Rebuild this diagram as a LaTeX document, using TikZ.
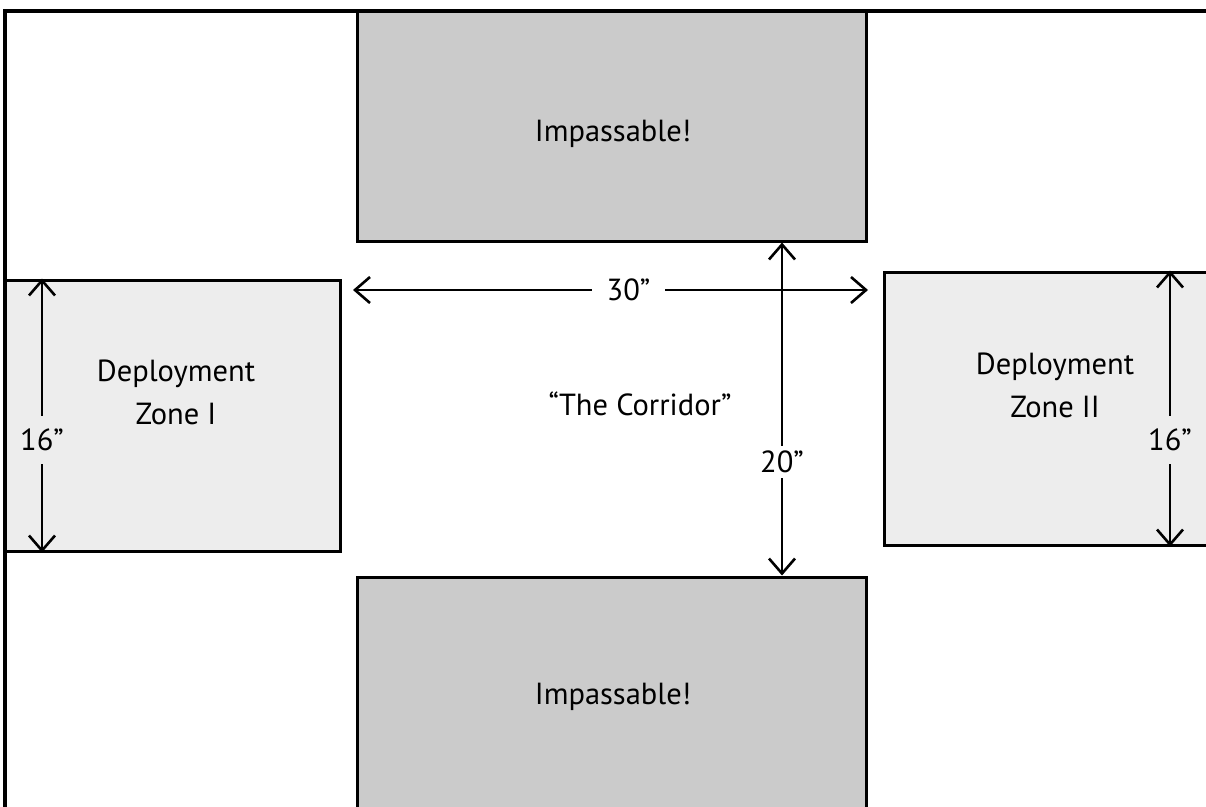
\documentclass[tikz,border=0pt]{standalone}
\usepackage{fontspec}
\setmainfont{PT Sans}
\usetikzlibrary{arrows.meta}
\definecolor{darkzone}{HTML}{CBCBCB}
\definecolor{lightzone}{HTML}{EDEDED}
\begin{document}
\begin{tikzpicture}[x=1pt,y=-1pt,
  wall/.style={draw=black, line width=3pt, fill=darkzone, inner sep=0pt},
  deploy/.style={draw=black, line width=3pt, fill=lightzone, inner sep=0pt},
  dim/.style={line width=2.6pt, {Straight Barb[length=15pt,width=26pt,line width=2.6pt]}-{Straight Barb[length=15pt,width=26pt,line width=2.6pt]}},
  txt/.style={font=\fontsize{30.5}{43}\selectfont, align=center},
  lbl/.style={font=\fontsize{30.5}{43}\selectfont, fill=white, inner xsep=4pt, inner ysep=4pt}
]
\useasboundingbox (0,0) rectangle (1206,806);
\begin{scope}
\clip (0,0) rectangle (1206,806);
\fill[white] (0,0) rectangle (1206,806);
% walls
\node[wall, minimum width=509pt, minimum height=230pt] (topwall) at (611.5,126) {};
\node[wall, minimum width=509pt, minimum height=253pt] (botwall) at (611.5,703.5) {};
% deployment zones
\node[deploy, minimum width=335pt, minimum height=271pt] (dz1) at (172.5,415.5) {};
\node[deploy, minimum width=336pt, minimum height=273pt] (dz2) at (1052,408.5) {};
% outer frame
\draw[line width=3.2pt] (5,830) -- (5,11) -- (1230,11);
% texts
\node[txt] (t1) at (613,134) {Impassable!};
\node[txt] (t2) at (613,697) {Impassable!};
\node[txt] (t3) at (176,392) {Deployment\\Zone I};
\node[txt] (t4) at (1055,385) {Deployment\\Zone II};
\node[txt] (t5) at (640,404) {“The Corridor”};
% dimensions
\coordinate (h1) at (353,290);
\coordinate (h2) at (868,290);
\draw[dim] (h1) -- node[lbl, pos=0.535, inner xsep=15pt] {30”} (h2);
\coordinate (v) at (782,0);
\draw[dim] (topwall.south -| v) -- node[lbl, pos=0.66, inner ysep=5pt] {20”} (botwall.north -| v);
\coordinate (l) at (42,0);
\draw[dim] (dz1.north -| l) -- node[lbl, fill=lightzone, pos=0.59, inner ysep=13pt] {16”} (dz1.south -| l);
\coordinate (r) at (1170,0);
\draw[dim] (dz2.north -| r) -- node[lbl, fill=lightzone, pos=0.615, inner ysep=13pt] {16”} (dz2.south -| r);
\end{scope}
\end{tikzpicture}
\end{document}
